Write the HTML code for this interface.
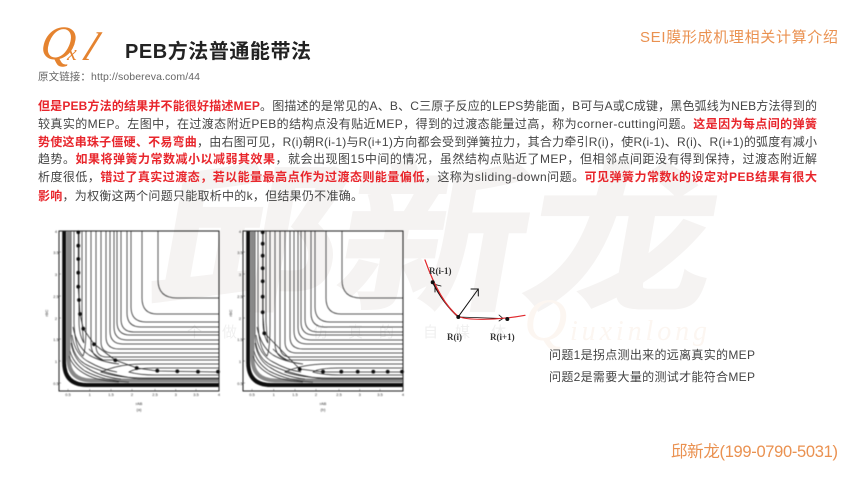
<!DOCTYPE html>
<html lang="zh-CN">
<head>
<meta charset="utf-8">
<title>PEB方法普通能带法</title>
<style>
html,body{margin:0;padding:0;background:#fff;}
svg{display:block;}
text{font-family:"Liberation Sans","Noto Sans CJK SC",sans-serif;}
.b{font-size:12px;fill:#444;}
.r{fill:#e8262c;font-weight:bold;}
.t{font-family:"Liberation Sans",sans-serif;font-size:4px;fill:#333;}
.s{font-family:"Liberation Serif",serif;font-size:9px;font-weight:bold;fill:#333;}
.i{font-family:"Liberation Serif",serif;font-style:italic;}
</style>
</head>
<body>
<svg width="860" height="484" viewBox="0 0 860 484" xmlns="http://www.w3.org/2000/svg">
<defs>
<filter id="bl" x="-5%" y="-5%" width="110%" height="110%"><feGaussianBlur stdDeviation="0.4"/></filter>
<g id="plot">
<path d="M9.5,0V128Q10,149 32,149.5H160" fill="none" stroke="#888" stroke-width="4"/>
<path d="M5.2,0V132Q5.5,154 28,154H160" fill="none" stroke="#111" stroke-width="4"/>
<g fill="none" stroke="#222" stroke-width="0.75">
<path d="M99,0V49Q99,67 118,67H160"/>
<path d="M83,0V67Q83,83 98,83H160"/>
<path d="M72,0V76Q72,91 87,91H160"/>
<path d="M68,0V82Q68,96 82,96H160"/>
<path d="M62,0V88Q62,101 75,101H160"/>
<path d="M58,0V91Q58,104 71,104H160"/>
<path d="M55,0V96Q55,109 68,109H160"/>
<path d="M51,0V100Q51,113 64,113H160"/>
<path d="M47,0V106Q47,118 60,118H160"/>
<path d="M42,0V111Q42,122 54,122H160"/>
<path d="M37,0V115Q37,126 48,126H160"/>
<path d="M32,0V112Q32,126 44,129H160"/>
<path d="M27,0V95Q27,118 24,125Q16,118 15,92V0"/>
<path d="M23,0V90Q24,108 25,112Q20,104 20,90V0"/>
<path d="M12,0V105Q13,128 30,135Q50,144 80,148H160"/>
<path d="M160,133H84Q60,133 42,141Q60,147 84,147H160"/>
<path d="M160,137H96Q76,137 70,141Q80,144 96,144H160"/>
<path d="M11,120Q14,132 26,140Q45,150 70,151"/>
<path d="M10,125Q14,137 28,144Q40,150 60,151"/>
<path d="M14,96Q18,116 30,124Q42,131 60,133"/>
<path d="M30,118Q38,126 44,129"/>
<path d="M12,112Q15,130 28,137Q42,146 62,148"/>
<path d="M13,104Q16,124 30,131Q44,139 58,141"/>
</g>
<g stroke="#333" stroke-width="0.4">
<path d="M9,160v-2M30.7,160v-2M52,160v-2M73,160v-2M96,160v-2M116.7,160v-2M137,160v-2M0,21h2M0,43h2M0,65h2M0,87h2M0,108h2M0,130h2M0,152h2"/>
</g>
<rect x="0" y="0" width="160" height="160" fill="none" stroke="#222" stroke-width="1"/>
<g class="t" text-anchor="middle">
<text x="9" y="165">0.5</text><text x="30.7" y="165">1</text><text x="52" y="165">1.5</text><text x="73" y="165">2</text><text x="96" y="165">2.5</text><text x="116.7" y="165">3</text><text x="137" y="165">3.5</text><text x="160" y="165">4</text>
<text x="-3" y="2">4</text><text x="-3" y="23">3.5</text><text x="-3" y="45">3</text><text x="-3" y="67">2.5</text><text x="-3" y="89">2</text><text x="-3" y="110">1.5</text><text x="-3" y="132">1</text><text x="-3" y="154">0.5</text>
<text x="80" y="174">rAB</text>
<text transform="translate(-11,82) rotate(-90)">rBC</text>
</g>
</g>
</defs>

<rect width="860" height="484" fill="#fff"/>

<!-- watermark -->
<text transform="translate(145,297) skewX(-10) scale(1.17,1)" font-size="160" font-weight="bold" fill="#f5f3f2" stroke="#f5f3f2" stroke-width="3">邱新龙</text>
<g fill="#f0f0f0" font-size="15">
<text x="187" y="337">个</text><text x="222" y="337">做</text><text x="313" y="337">仿</text><text x="348" y="337">真</text><text x="379" y="337">的</text><text x="423" y="337">自</text><text x="455" y="337">媒</text><text x="491" y="337">体</text>
</g>
<text class="i" x="524" y="340" font-size="60" fill="#fcf6f1">Q</text>
<text class="i" x="570" y="340" font-size="28" fill="#fcf6f1" textLength="137">iuxinlong</text>

<!-- logo -->
<text class="i" transform="translate(39,59) skewX(-8)" font-size="48" fill="#e5832f">Q</text>
<text class="i" x="67" y="60" font-size="22" fill="#e5832f">x</text>
<text class="i" transform="translate(80,60) skewX(-24)" font-size="40" fill="#e5832f">l</text>

<text x="125" y="58" font-size="20" font-weight="bold" fill="#222" textLength="186">PEB方法普通能带法</text>
<text x="38" y="80" font-size="10.5" fill="#666" textLength="162">原文链接：http://sobereva.com/44</text>
<text x="640" y="42" font-size="15" fill="#ea9150" textLength="198">SEI膜形成机理相关计算介绍</text>

<!-- body -->
<text class="b" x="38" y="110" textLength="779"><tspan class="r">但是PEB方法的结果并不能很好描述MEP</tspan>。图描述的是常见的A、B、C三原子反应的LEPS势能面，B可与A或C成键，黑色弧线为NEB方法得到的</text>
<text class="b" x="38" y="128" textLength="779">较真实的MEP。左图中，在过渡态附近PEB的结构点没有贴近MEP，得到的过渡态能量过高，称为corner-cutting问题。<tspan class="r">这是因为每点间的弹簧</tspan></text>
<text class="b" x="38" y="146" textLength="779"><tspan class="r">势使这串珠子僵硬、不易弯曲</tspan>，由右图可见，R(i)朝R(i-1)与R(i+1)方向都会受到弹簧拉力，其合力牵引R(i)，使R(i-1)、R(i)、R(i+1)的弧度有减小</text>
<text class="b" x="38" y="163" textLength="779">趋势。<tspan class="r">如果将弹簧力常数减小以减弱其效果</tspan>，就会出现图15中间的情况，虽然结构点贴近了MEP，但相邻点间距没有得到保持，过渡态附近解</text>
<text class="b" x="38" y="181" textLength="779">析度很低，<tspan class="r">错过了真实过渡态，若以能量最高点作为过渡态则能量偏低</tspan>，这称为sliding-down问题。<tspan class="r">可见弹簧力常数k的设定对PEB结果有很大</tspan></text>
<text class="b" x="38" y="200" textLength="325"><tspan class="r">影响</tspan>，为权衡这两个问题只能取析中的k，但结果仍不准确。</text>

<!-- plots -->
<g filter="url(#bl)">
<use href="#plot" transform="translate(59,231)"/>
<text class="t" x="139" y="411" text-anchor="middle">(a)</text>
<polyline points="78.3,232 78.3,287 80,314 83.3,329 94,344 115,360 137,368 157,371 218,372" fill="none" stroke="#222" stroke-width="0.8"/>
<g fill="#111">
<circle cx="78.3" cy="232.3" r="1.9"/><circle cx="78.3" cy="245.7" r="1.9"/><circle cx="78.3" cy="259" r="1.9"/><circle cx="78.3" cy="272.7" r="1.9"/><circle cx="78.3" cy="286.7" r="1.9"/><circle cx="79" cy="300" r="1.9"/><circle cx="80" cy="314" r="1.9"/><circle cx="83.3" cy="328.7" r="1.9"/><circle cx="94" cy="344.3" r="1.9"/><circle cx="115.3" cy="360.3" r="1.9"/><circle cx="136.7" cy="368" r="1.9"/><circle cx="157.3" cy="370.7" r="1.9"/><circle cx="177.3" cy="371.3" r="1.9"/><circle cx="198" cy="371.7" r="1.9"/><circle cx="218" cy="371.7" r="1.9"/>
</g>
<use href="#plot" transform="translate(243,231)"/>
<text class="t" x="323" y="411" text-anchor="middle">(b)</text>
<polyline points="262.7,232 262.7,312 264.3,333 299.7,369 323,372 402,372" fill="none" stroke="#222" stroke-width="0.8"/>
<g fill="#111">
<circle cx="262.7" cy="232.3" r="1.9"/><circle cx="262.7" cy="243.7" r="1.9"/><circle cx="262.7" cy="255.7" r="1.9"/><circle cx="262.7" cy="268.3" r="1.9"/><circle cx="262.7" cy="281.3" r="1.9"/><circle cx="262.7" cy="296.7" r="1.9"/><circle cx="262.7" cy="312.3" r="1.9"/><circle cx="264.3" cy="333.3" r="1.9"/><circle cx="299.7" cy="369.3" r="1.9"/><circle cx="323" cy="371.7" r="1.9"/><circle cx="341.3" cy="371.7" r="1.9"/><circle cx="357.7" cy="371.7" r="1.9"/><circle cx="373.3" cy="371.7" r="1.9"/><circle cx="387.7" cy="371.7" r="1.9"/><circle cx="402" cy="371.7" r="1.9"/>
</g>
</g>

<!-- schematic -->
<g fill="none" stroke-linecap="round">
<path d="M432.7,282.3Q443,303 458.3,317" stroke="#111" stroke-width="1.4"/>
<path d="M458.3,316.7L478.3,289M471,289H478.3V296" stroke="#111" stroke-width="1"/>
<path d="M435,292L435,284.5L441,286" stroke="#111" stroke-width="0.9"/>
<path d="M458.3,317L503,318.5M499,315L503,318.5L499,321" stroke="#111" stroke-width="0.8"/>
<path d="M425,260Q440,302 458.3,316.5Q466,319.5 483,319.3Q505,319 525,315.3" stroke="#e0282c" stroke-width="1.2"/>
</g>
<g fill="#111">
<circle cx="432.7" cy="282.3" r="2"/><circle cx="458.3" cy="317" r="2"/><circle cx="507.3" cy="319" r="2"/>
</g>
<text class="s" x="429" y="274">R(i-1)</text>
<text class="s" x="447" y="340">R(i)</text>
<text class="s" x="490" y="340">R(i+1)</text>

<!-- notes -->
<text x="549" y="359" font-size="12" fill="#444" textLength="206">问题1是拐点测出来的远离真实的MEP</text>
<text x="549" y="381" font-size="12" fill="#444" textLength="206">问题2是需要大量的测试才能符合MEP</text>

<text x="671" y="457" font-size="16.5" fill="#ea9150" textLength="167">邱新龙(199-0790-5031)</text>
</svg>
</body>
</html>
